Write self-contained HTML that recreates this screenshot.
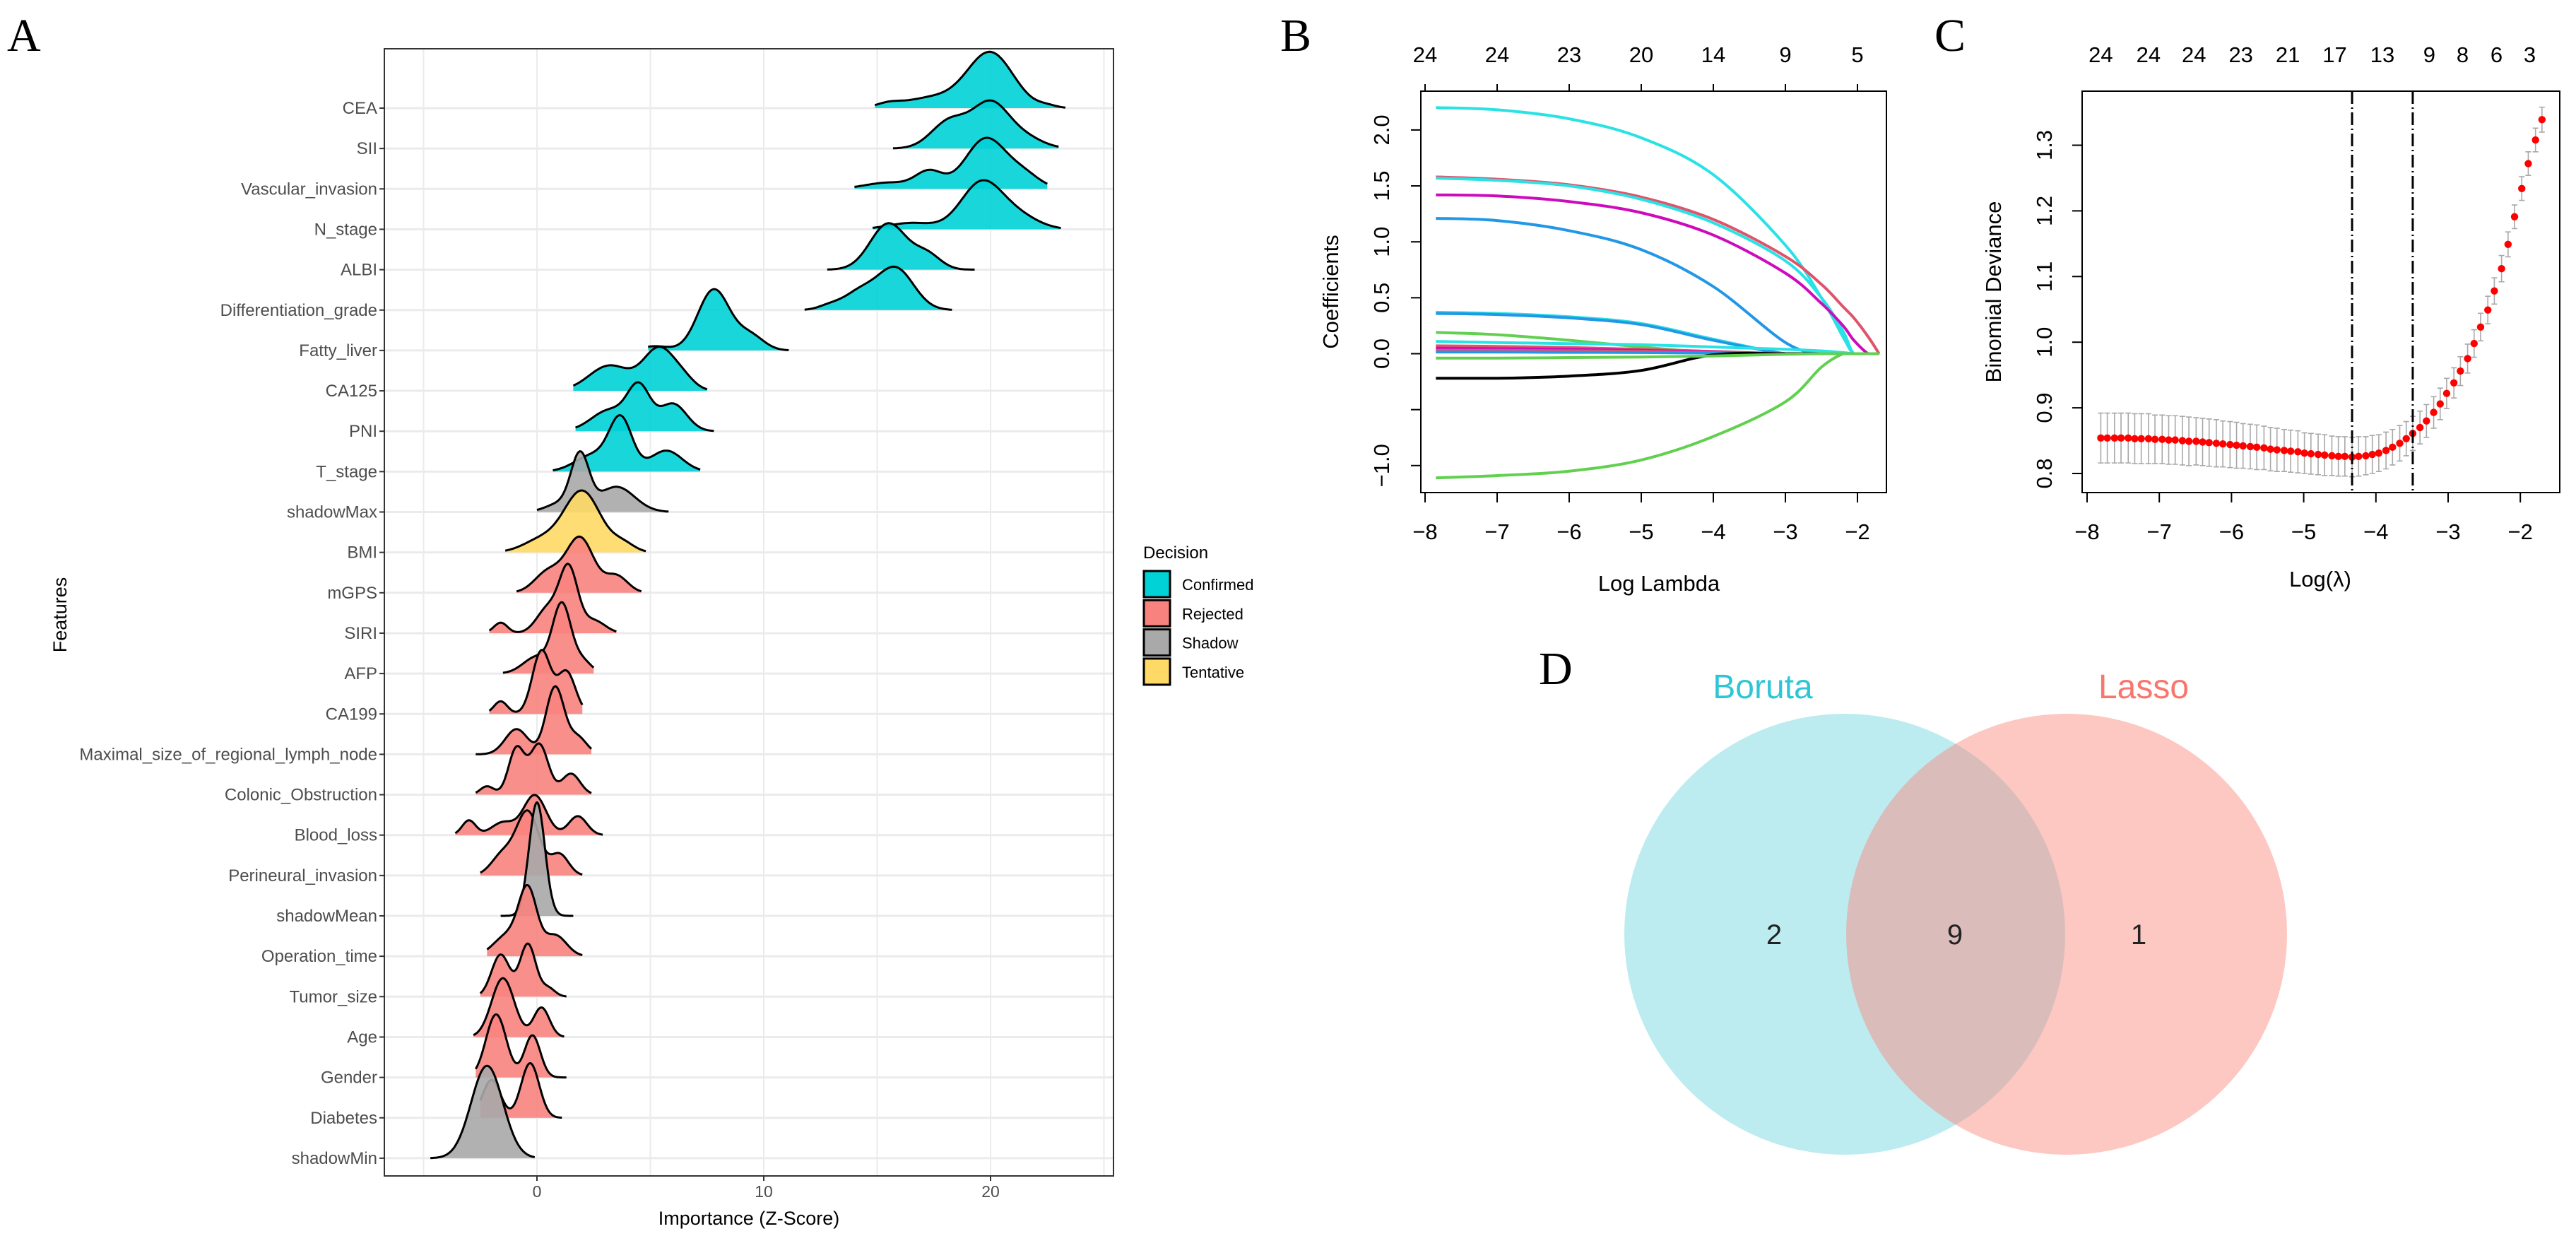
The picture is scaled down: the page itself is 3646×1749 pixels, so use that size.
<!DOCTYPE html>
<html><head><meta charset="utf-8"><style>
html,body{margin:0;padding:0;background:#fff;}
svg{display:block;font-family:"Liberation Sans",Arial,sans-serif;}
</style></head><body>
<svg id="fig" width="3646" height="1749" viewBox="0 0 3646 1749" xmlns="http://www.w3.org/2000/svg">
<text x="10" y="72" font-family="Liberation Serif,serif" font-size="66">A</text>
<text x="1812" y="72" font-family="Liberation Serif,serif" font-size="66">B</text>
<text x="2738" y="72" font-family="Liberation Serif,serif" font-size="66">C</text>
<text x="2178" y="968" font-family="Liberation Serif,serif" font-size="66">D</text>
<g id="pa"></g>
<g id="pb"></g>
<g id="pc"></g>
<g id="pd">
<circle cx="2611" cy="1322" r="312" fill="#5fd0dc" fill-opacity="0.42"/>
<circle cx="2925" cy="1322" r="312" fill="#fb8a80" fill-opacity="0.48"/>
<text x="2495" y="988" font-size="48" fill="#2ec6d6" text-anchor="middle">Boruta</text>
<text x="3034" y="988" font-size="48" fill="#f8766d" text-anchor="middle">Lasso</text>
<text x="2511" y="1336" font-size="40" fill="#222" text-anchor="middle">2</text>
<text x="2767" y="1336" font-size="40" fill="#222" text-anchor="middle">9</text>
<text x="3027" y="1336" font-size="40" fill="#222" text-anchor="middle">1</text>
</g>
</svg>
<script>
const NS="http://www.w3.org/2000/svg";
function mk(parent,tag,attrs,txt){const e=document.createElementNS(NS,tag);for(const k in attrs)e.setAttribute(k,attrs[k]);if(txt!==undefined)e.textContent=txt;parent.appendChild(e);return e;}

/* ---------- Panel A data ---------- */
const features=["CEA","SII","Vascular_invasion","N_stage","ALBI","Differentiation_grade","Fatty_liver","CA125","PNI","T_stage","shadowMax","BMI","mGPS","SIRI","AFP","CA199","Maximal_size_of_regional_lymph_node","Colonic_Obstruction","Blood_loss","Perineural_invasion","shadowMean","Operation_time","Tumor_size","Age","Gender","Diabetes","shadowMin"];
const decisions=["Confirmed","Confirmed","Confirmed","Confirmed","Confirmed","Confirmed","Confirmed","Confirmed","Confirmed","Confirmed","Shadow","Tentative","Rejected","Rejected","Rejected","Rejected","Rejected","Rejected","Rejected","Rejected","Shadow","Rejected","Rejected","Rejected","Rejected","Rejected","Shadow"];
const rangeLo=[14.9,15.7,14.0,14.8,12.8,11.8,4.9,1.6,1.7,0.7,0,-1.4,-0.9,-2.1,-1.5,-2.1,-2.7,-2.7,-3.6,-2.5,-1.6,-2.2,-2.5,-2.8,-2.7,-2.5,-4.7];
const rangeHi=[23.3,23.0,22.5,23.1,19.3,18.3,11.1,7.5,7.8,7.2,5.8,4.8,4.6,3.5,2.5,2.0,2.4,2.4,2.9,2.0,1.6,2.0,1.3,1.2,1.3,1.1,-0.1];
const densityModes=[
[[15.5,0.5,0.08],[17.5,1.3,0.25],[20,1.0,1.3],[22.5,0.4,0.05]],
[[18.2,0.8,0.65],[20,0.8,1.05],[21.5,0.8,0.25]],
[[15.5,1.0,0.15],[17.3,0.6,0.4],[19.8,0.9,1.2],[21.5,0.7,0.3]],
[[16.5,1.0,0.15],[19.6,0.9,1.1],[21.2,0.9,0.3]],
[[15.5,0.8,1.1],[17.2,0.6,0.35]],
[[12.9,0.5,0.1],[14.2,0.7,0.4],[15.8,0.8,1.0]],
[[5.2,0.6,0.1],[7.8,0.7,1.45],[9.4,0.6,0.35]],
[[3.2,0.9,0.6],[5.4,0.7,1.0],[6.5,0.5,0.2]],
[[3.2,0.8,0.5],[4.5,0.5,1.0],[6.0,0.6,0.65]],
[[2.5,0.8,0.4],[3.7,0.5,1.2],[5.7,0.7,0.5]],
[[1.0,0.6,0.2],[1.9,0.4,1.3],[3.5,0.8,0.6]],
[[0.2,0.8,0.3],[2.0,0.8,1.45],[3.8,0.5,0.2]],
[[0.5,0.6,0.5],[1.9,0.6,1.3],[3.5,0.5,0.4]],
[[-1.6,0.3,0.25],[0.5,0.5,0.6],[1.4,0.4,1.5],[2.5,0.5,0.3]],
[[0.0,0.6,0.4],[1.1,0.4,1.6],[2.0,0.4,0.3]],
[[-1.6,0.3,0.3],[0.2,0.4,1.5],[1.3,0.4,1.0]],
[[-0.9,0.5,0.6],[0.8,0.4,1.6],[1.8,0.4,0.4]],
[[-2.2,0.3,0.2],[-0.9,0.35,1.1],[0.1,0.4,1.2],[1.5,0.4,0.5]],
[[-3.0,0.3,0.35],[-1.5,0.5,0.3],[-0.1,0.5,0.95],[1.8,0.4,0.45]],
[[-1.5,0.5,0.5],[-0.4,0.5,1.5],[1.0,0.4,0.5]],
[[0.0,0.35,2.7]],
[[-1.3,0.6,0.5],[-0.4,0.4,1.5],[0.8,0.5,0.5]],
[[-1.6,0.4,1.0],[-0.4,0.35,1.25],[0.5,0.3,0.2]],
[[-1.5,0.5,1.4],[0.2,0.35,0.7]],
[[-1.8,0.45,1.5],[-0.2,0.35,1.0]],
[[-2.0,0.4,0.9],[-0.3,0.4,1.3]],
[[-2.2,0.7,2.2]]
];
const xTicksA=[0,10,20];
const xGridA=[-5,0,5,10,15,20,25];
const legendKeys=["Confirmed","Rejected","Shadow","Tentative"];
const fillFor={Confirmed:"#00d2d6",Rejected:"#f8837e",Shadow:"#a9a9a9",Tentative:"#ffd966"};

/* ---------- Panel B data ---------- */
const bLambda=[-7.85,-7,-6,-5,-4,-3,-2.5,-2.2,-2.05,-1.85,-1.7];
const bColors=["#28E2E5","#DF536B","#28E2E5","#CD0BBC","#2297E6","#28E2E5","#2297E6","#61D04F","#28E2E5","#DF536B","#CD0BBC","#DF536B","#2297E6","#000000","#61D04F","#61D04F"];
const bCoefs=[
[2.2,2.18,2.1,1.93,1.6,0.97,0.5,0.15,0,0,0],
[1.58,1.56,1.51,1.4,1.2,0.87,0.62,0.42,0.32,0.15,0],
[1.57,1.55,1.5,1.38,1.17,0.83,0.5,0.2,0,0,0],
[1.42,1.41,1.36,1.26,1.06,0.72,0.45,0.25,0.12,0,0],
[1.21,1.19,1.1,0.93,0.6,0.1,0,0,0,0,0],
[0.37,0.36,0.33,0.27,0.13,0,0,0,0,0,0],
[0.36,0.35,0.32,0.26,0.12,0,0,0,0,0,0],
[0.19,0.17,0.12,0.06,0.01,0,0,0,0,0,0],
[0.11,0.1,0.09,0.08,0.06,0.04,0.025,0.01,0,0,0],
[0.07,0.065,0.055,0.04,0.02,0,0,0,0,0,0],
[0.05,0.045,0.04,0.03,0.015,0,0,0,0,0,0],
[0.03,0.03,0.025,0.02,0.01,0,0,0,0,0,0],
[0.015,0.015,0.012,0.01,0.005,0,0,0,0,0,0],
[-0.22,-0.22,-0.2,-0.15,-0.01,0,0,0,0,0,0],
[-0.04,-0.04,-0.035,-0.03,-0.02,-0.005,0,0,0,0,0],
[-1.11,-1.09,-1.05,-0.95,-0.74,-0.43,-0.12,0,0,0,0]
];
const bXTicks=[-8,-7,-6,-5,-4,-3,-2];
const bTopLabels=["24","24","23","20","14","9","5"];
const bYTicks=[-1.0,-0.5,0.0,0.5,1.0,1.5,2.0];
const bYLabels=["\u22121.0","","0.0","0.5","1.0","1.5","2.0"];

/* ---------- Panel C data ---------- */
const cLambda=[-7.81,-7.72,-7.62,-7.53,-7.43,-7.34,-7.25,-7.15,-7.06,-6.96,-6.87,-6.78,-6.68,-6.59,-6.49,-6.40,-6.31,-6.21,-6.12,-6.02,-5.93,-5.84,-5.74,-5.65,-5.55,-5.46,-5.37,-5.27,-5.18,-5.08,-4.99,-4.90,-4.80,-4.71,-4.61,-4.52,-4.43,-4.33,-4.24,-4.14,-4.05,-3.96,-3.86,-3.77,-3.67,-3.58,-3.49,-3.39,-3.30,-3.20,-3.11,-3.02,-2.92,-2.83,-2.73,-2.64,-2.55,-2.45,-2.36,-2.26,-2.17,-2.08,-1.98,-1.89,-1.79,-1.70];
const cDeviance=[0.854,0.854,0.854,0.854,0.854,0.853,0.853,0.853,0.852,0.852,0.851,0.851,0.850,0.849,0.849,0.848,0.847,0.846,0.845,0.844,0.843,0.842,0.841,0.840,0.839,0.837,0.836,0.835,0.834,0.833,0.831,0.830,0.829,0.828,0.827,0.826,0.826,
0.825,0.826,0.827,0.829,0.831,0.835,0.840,0.846,0.853,0.861,0.870,0.880,0.893,0.906,0.922,0.938,0.956,0.975,0.998,1.023,1.049,1.078,1.112,1.149,1.191,1.234,1.272,1.308,1.339];
const cSE=[0.038,0.038,0.038,0.038,0.038,0.038,0.038,0.038,0.037,0.037,0.037,0.037,0.037,0.037,0.036,0.036,0.036,0.036,0.035,0.035,0.035,0.034,0.034,0.034,0.033,0.033,0.033,0.032,0.032,0.032,0.031,0.031,0.031,0.031,0.030,0.030,0.030,
0.030,0.030,0.029,0.029,0.028,0.028,0.027,0.027,0.026,0.026,0.025,0.025,0.024,0.024,0.023,0.023,0.022,0.022,0.021,0.021,0.021,0.020,0.020,0.019,0.018,0.018,0.018,0.018,0.019];
const cMinLambda=-4.33, c1seLambda=-3.49;
const cXTicks=[-8,-7,-6,-5,-4,-3,-2];
const cYTicks=[0.8,0.9,1.0,1.1,1.2,1.3];
const cTopAt=[-7.81,-7.15,-6.52,-5.87,-5.22,-4.57,-3.91,-3.26,-2.80,-2.33,-1.87];
const cTopLabels=["24","24","24","23","21","17","13","9","8","6","3"];

function smoothPath(pts){
 let d='M'+pts[0][0].toFixed(1)+','+pts[0][1].toFixed(1);
 for(let i=0;i<pts.length-1;i++){
  const p0=pts[i-1]||pts[i],p1=pts[i],p2=pts[i+1],p3=pts[i+2]||p2;
  let c1y=p1[1]+(p2[1]-p0[1])/6,c2y=p2[1]-(p3[1]-p1[1])/6;
  const c1x=p1[0]+(p2[0]-p0[0])/6,c2x=p2[0]-(p3[0]-p1[0])/6;
  if(p1[1]===p2[1]){c1y=p1[1];c2y=p2[1];}
  d+='C'+c1x.toFixed(1)+','+c1y.toFixed(1)+' '+c2x.toFixed(1)+','+c2y.toFixed(1)+' '+p2[0].toFixed(1)+','+p2[1].toFixed(1);
 }
 return d;
}

/* ===== Panel A render ===== */
(function(){
const g=document.getElementById('pa');
const L=544,R=1576,T=69,B=1664,y0=153,rowH=57.15;
const xs=v=>760+v*32.1;
const ys=i=>y0+i*rowH;
mk(g,'rect',{x:L,y:T,width:R-L,height:B-T,fill:'#fff'});
xGridA.forEach(v=>{const l=mk(g,'line',{x1:xs(v),x2:xs(v),y1:T,y2:B,stroke:'#ebebeb','stroke-width':2});

});
features.forEach((f,i)=>{const l=mk(g,'line',{x1:L,x2:R,y1:ys(i),y2:ys(i),stroke:'#ebebeb','stroke-width':3});

});
features.forEach((f,i)=>{
 const comps=densityModes[i],lo=rangeLo[i],hi=rangeHi[i];
 const pts=[];const n=120;
 for(let k=0;k<=n;k++){const v=lo+(hi-lo)*k/n;let d=0;comps.forEach(c=>{d+=c[2]*Math.exp(-0.5*Math.pow((v-c[0])/c[1],2));});pts.push([xs(v),ys(i)-d*rowH*1.04]);}
 const line=pts.map((p,k)=>(k?'L':'M')+p[0].toFixed(1)+','+p[1].toFixed(1)).join('');
 const area=line+'L'+xs(hi).toFixed(1)+','+ys(i)+'L'+xs(lo).toFixed(1)+','+ys(i)+'Z';
 const a=mk(g,'path',{d:area,fill:fillFor[decisions[i]],'fill-opacity':0.9});
 
 
 const s=mk(g,'path',{d:line,fill:'none',stroke:'#000','stroke-width':3});
 
 
});
mk(g,'rect',{x:L,y:T,width:R-L,height:B-T,fill:'none',stroke:'#333','stroke-width':2});
features.forEach((f,i)=>{
 mk(g,'line',{x1:L-7,x2:L,y1:ys(i),y2:ys(i),stroke:'#333','stroke-width':2});
 const t=mk(g,'text',{x:L-10,y:ys(i)+8,'text-anchor':'end','font-size':24,fill:'#4d4d4d'},f);
 
 
});
xTicksA.forEach(v=>{
 mk(g,'line',{x1:xs(v),x2:xs(v),y1:B,y2:B+7,stroke:'#333','stroke-width':2});
 const t=mk(g,'text',{x:xs(v),y:B+30,'text-anchor':'middle','font-size':23,fill:'#4d4d4d'},String(v));
 
 
});
const xt=mk(g,'text',{x:1060,y:1733,'text-anchor':'middle','font-size':27},'Importance (Z-Score)');


const yt=mk(g,'text',{x:0,y:0,'text-anchor':'middle','font-size':27,transform:'translate(94,870) rotate(-90)'},'Features');


const lt=mk(g,'text',{x:1618,y:790,'font-size':24},'Decision');


legendKeys.forEach((k,j)=>{
 const yy=808+j*41.3;
 const r=mk(g,'rect',{x:1619,y:yy,width:37,height:37,fill:fillFor[k],stroke:'#000','stroke-width':3});
 
 
 const t=mk(g,'text',{x:1673,y:yy+27,'font-size':22},k);
 
 
});
})();

/* ===== Panel B render ===== */
(function(){
const g=document.getElementById('pb');
const L=2011,R=2670,T=129,B=697;
const xs=v=>2017+(v+8)*102;
const ys=v=>500.5-v*158.3;
bCoefs.forEach((row,j)=>{
 const pts=row.map((c,k)=>[xs(bLambda[k]),ys(c)]);
 const p=mk(g,'path',{d:smoothPath(pts),fill:'none',stroke:bColors[j],'stroke-width':4,'stroke-linejoin':'round'});
 
 
});
mk(g,'rect',{x:L,y:T,width:R-L,height:B-T,fill:'none',stroke:'#000','stroke-width':2});
bXTicks.forEach((v,k)=>{
 mk(g,'line',{x1:xs(v),x2:xs(v),y1:B,y2:B+14,stroke:'#000','stroke-width':2});
 const t=mk(g,'text',{x:xs(v),y:763,'text-anchor':'middle','font-size':31},String(v).replace('-','\u2212'));
 
 
 mk(g,'line',{x1:xs(v),x2:xs(v),y1:T,y2:T-10,stroke:'#000','stroke-width':2});
 const u=mk(g,'text',{x:xs(v),y:88,'text-anchor':'middle','font-size':31},bTopLabels[k]);
 
 
});
bYTicks.forEach((v,k)=>{
 mk(g,'line',{x1:L,x2:L-14,y1:ys(v),y2:ys(v),stroke:'#000','stroke-width':2});
 if(bYLabels[k]){const t=mk(g,'text',{x:0,y:0,'text-anchor':'middle','font-size':31,transform:'translate(1966,'+ys(v)+') rotate(-90)'},bYLabels[k]);
 
 }
});
const xt=mk(g,'text',{x:2348,y:836,'text-anchor':'middle','font-size':31},'Log Lambda');


const yt=mk(g,'text',{x:0,y:0,'text-anchor':'middle','font-size':31,transform:'translate(1894,413) rotate(-90)'},'Coefficients');


})();

/* ===== Panel C render ===== */
(function(){
const g=document.getElementById('pc');
const L=2947,R=3623,T=129,B=697;
const xs=v=>2954+(v+8)*102.2;
const ys=v=>670-(v-0.8)*929;
cLambda.forEach((lam,k)=>{
 const x=xs(lam),up=ys(cDeviance[k]+cSE[k]),dn=ys(cDeviance[k]-cSE[k]);
 const e=mk(g,'path',{d:'M'+x+','+up+'V'+dn+'M'+(x-4)+','+up+'H'+(x+4)+'M'+(x-4)+','+dn+'H'+(x+4),stroke:'#a8a8a8','stroke-width':1.6,fill:'none'});
 
 
});
cLambda.forEach((lam,k)=>{
 const c=mk(g,'circle',{cx:xs(lam),cy:ys(cDeviance[k]),r:5.2,fill:'#ff0000'});
 
 
});
[cMinLambda,c1seLambda].forEach((v,k)=>{
 const l=mk(g,'line',{x1:xs(v),x2:xs(v),y1:T,y2:B,stroke:'#000','stroke-width':3,'stroke-dasharray':'18 5 2 5'});
 
 
});
mk(g,'rect',{x:L,y:T,width:R-L,height:B-T,fill:'none',stroke:'#000','stroke-width':2});
cXTicks.forEach(v=>{
 mk(g,'line',{x1:xs(v),x2:xs(v),y1:B,y2:B+14,stroke:'#000','stroke-width':2});
 const t=mk(g,'text',{x:xs(v),y:763,'text-anchor':'middle','font-size':31},String(v).replace('-','\u2212'));
 
 
});
cTopAt.forEach((v,k)=>{
 const u=mk(g,'text',{x:xs(v),y:88,'text-anchor':'middle','font-size':31},cTopLabels[k]);
 
 
});
cYTicks.forEach(v=>{
 mk(g,'line',{x1:L,x2:L-14,y1:ys(v),y2:ys(v),stroke:'#000','stroke-width':2});
 const t=mk(g,'text',{x:0,y:0,'text-anchor':'middle','font-size':31,transform:'translate(2904,'+ys(v)+') rotate(-90)'},v.toFixed(1));
 
 
});
const xt=mk(g,'text',{x:3284,y:830,'text-anchor':'middle','font-size':31},'Log(\u03bb)');


const yt=mk(g,'text',{x:0,y:0,'text-anchor':'middle','font-size':31,transform:'translate(2832,413) rotate(-90)'},'Binomial Deviance');


})();
</script>
</body></html>
